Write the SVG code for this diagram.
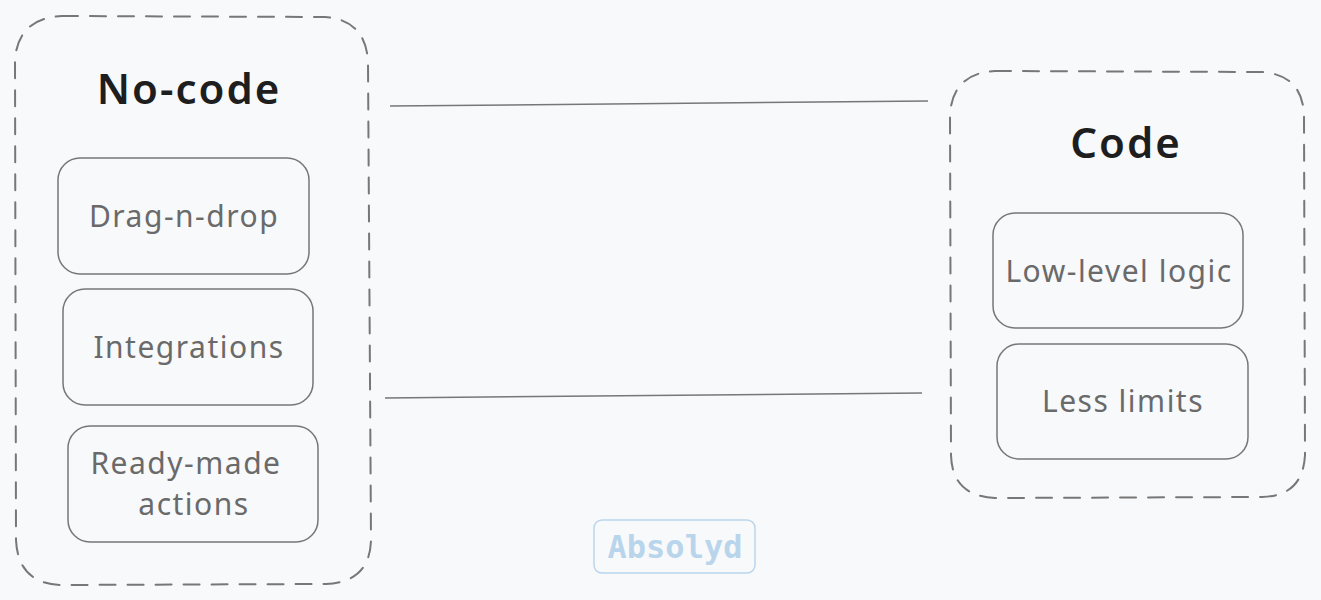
<svg xmlns="http://www.w3.org/2000/svg" width="1321" height="600" viewBox="0 0 1321 600">
<style>
.bg{fill:#f8f9fb}
.group{fill:none;stroke:#777;stroke-width:2;stroke-dasharray:16 12;stroke-linecap:round}
.box{fill:none;stroke:#777;stroke-width:1.5}
.title{font-family:"Noto Sans",sans-serif;font-size:42px;font-weight:600;letter-spacing:2px;fill:#1e1e1e;text-anchor:middle}
.label{font-family:"Noto Sans",sans-serif;font-size:30px;letter-spacing:1.5px;fill:#6a6a6a;text-anchor:middle}
.conn{stroke:#777;stroke-width:1.5;fill:none}
.wm{fill:none;stroke:#b9d5ec;stroke-width:1.5}
.wmt{font-family:"DejaVu Sans Mono",monospace;font-size:32px;font-weight:bold;fill:#b9d5ec;text-anchor:middle}
</style>
<rect class="bg" x="0" y="0" width="1321" height="600"/>
<g id="nocode">
<path class="group" d="M62,16 L325,17 Q366,20 368,62 L371,540 Q370,582 326,584 L60,585 Q18,583 16,540 L15,60 Q18,18 62,16 Z"/>
<text class="title" x="189" y="104">No-code</text>
</g>
<g id="dragndrop">
<rect class="box" x="58" y="158" width="251" height="116" rx="22"/>
<text class="label" x="184" y="227">Drag-n-drop</text>
</g>
<g id="integrations">
<rect class="box" x="63" y="289" width="250" height="116" rx="22"/>
<text class="label" x="189" y="358">Integrations</text>
</g>
<g id="readymade">
<rect class="box" x="68" y="426" width="250" height="116" rx="22"/>
<text class="label" x="186" y="474">Ready-made</text>
<text class="label" x="194" y="515">actions</text>
</g>
<g id="code">
<path class="group" d="M995,71 L1262,72 Q1303,75 1304,116 L1305,455 Q1303,496 1262,497 L995,498 Q952,496 951,455 L950,114 Q953,73 995,71 Z"/>
<text class="title" x="1126" y="158">Code</text>
</g>
<g id="lowlevel">
<rect class="box" x="993" y="213" width="250" height="115" rx="22"/>
<text class="label" x="1119" y="282">Low-level logic</text>
</g>
<g id="lesslimits">
<rect class="box" x="997" y="344" width="251" height="115" rx="22"/>
<text class="label" x="1123" y="412">Less limits</text>
</g>
<g id="connectors">
<line class="conn" x1="390" y1="106" x2="928" y2="101"/>
<line class="conn" x1="385" y1="398" x2="922" y2="393"/>
</g>
<g id="watermark">
<rect class="wm" x="594" y="520" width="161" height="53" rx="8"/>
<text class="wmt" x="675" y="558">Absolyd</text>
</g>
</svg>
